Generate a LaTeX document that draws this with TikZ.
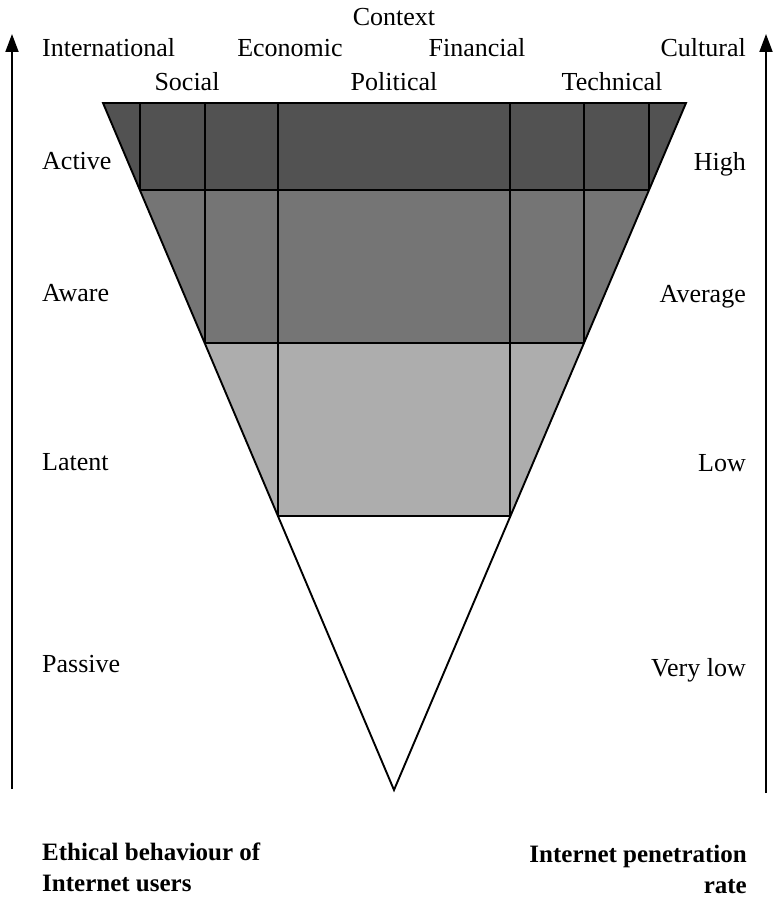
\documentclass[tikz,border=0pt]{standalone}
\usepackage{fontspec}
\setmainfont{Liberation Serif}
\usetikzlibrary{calc,arrows.meta}
\definecolor{bandDark}{gray}{0.32}
\definecolor{bandMid}{gray}{0.46}
\definecolor{bandLight}{gray}{0.68}
\begin{document}
\begin{tikzpicture}[
    x=1pt, y=-1pt,
    lbl/.style={inner sep=0pt, font=\fontsize{26}{30}\selectfont},
    boldlbl/.style={inner sep=0pt, font=\fontsize{25}{29}\selectfont\bfseries},
    edge/.style={draw=black, line width=1.9pt},
    axisarrow/.style={-{Triangle[length=18pt,width=13pt]}, line width=1.9pt}
]
\useasboundingbox (0,0) rectangle (774,901);

% Triangle corners
\coordinate (tl) at (103,103);
\coordinate (tr) at (686,103);
\coordinate (apex) at (394,790);

% Band borders on the sides
\coordinate (l1) at ($(tl)!0.127!(apex)$);
\coordinate (l2) at ($(tl)!0.349!(apex)$);
\coordinate (l3) at ($(tl)!0.6015!(apex)$);
\coordinate (r1) at ($(tr)!0.127!(apex)$);
\coordinate (r2) at ($(tr)!0.349!(apex)$);
\coordinate (r3) at ($(tr)!0.6015!(apex)$);

% Bands
\fill[bandDark] (tl) -- (tr) -- (r1) -- (l1) -- cycle;
\fill[bandMid] (l1) -- (r1) -- (r2) -- (l2) -- cycle;
\fill[bandLight] (l2) -- (r2) -- (r3) -- (l3) -- cycle;

% Grid lines
\draw[edge] (l1) -- (r1);
\draw[edge] (l2) -- (r2);
\draw[edge] (l3) -- (r3);
\foreach \p in {l1,l2,l3,r1,r2,r3}
    \draw[edge] (\p) -- (\p |- tl);
\draw[edge, line join=miter] (tl) -- (tr) -- (apex) -- cycle;

% Axes
\coordinate (lb) at (12,789);
\coordinate (lt) at (12,34);
\coordinate (rb) at (766,793);
\coordinate (rt) at (766,34);
\draw[axisarrow] (lb) -- (lt);
\draw[axisarrow] (rb) -- (rt);

% Context labels
\node[lbl, anchor=base] (ctx) at (394,26) {Context};
\node[lbl, anchor=base west] (intl) at (42,57) {International};
\node[lbl, anchor=base] (econ) at (290,57) {Economic};
\node[lbl, anchor=base] (fin) at (477,57) {Financial};
\node[lbl, anchor=base east] (cult) at (746,57) {Cultural};
\node[lbl, anchor=base] (soc) at (187,91) {Social};
\node[lbl, anchor=base] (pol) at (394,91) {Political};
\node[lbl, anchor=base] (tech) at (612,91) {Technical};

% Behaviour levels
\node[lbl, anchor=base west] (active) at (42,170) {Active};
\node[lbl, anchor=base west] (aware) at (42,301) {Aware};
\node[lbl, anchor=base west] (latent) at (42,470) {Latent};
\node[lbl, anchor=base west] (passive) at (42,672) {Passive};

% Penetration levels
\node[lbl, anchor=base east] (high) at (746,171) {High};
\node[lbl, anchor=base east] (avg) at (746,302) {Average};
\node[lbl, anchor=base east] (low) at (746,471) {Low};
\node[lbl, anchor=base east] (vlow) at (746,676) {Very low};

% Axis titles
\node[boldlbl, anchor=base west] (eth1) at (42,860) {Ethical behaviour of};
\node[boldlbl, anchor=base west] (eth2) at (42,891) {Internet users};
\node[boldlbl, anchor=base east] (pen1) at (747,862) {Internet penetration};
\node[boldlbl, anchor=base east] (pen2) at (747,893) {rate};

\end{tikzpicture}
\end{document}
